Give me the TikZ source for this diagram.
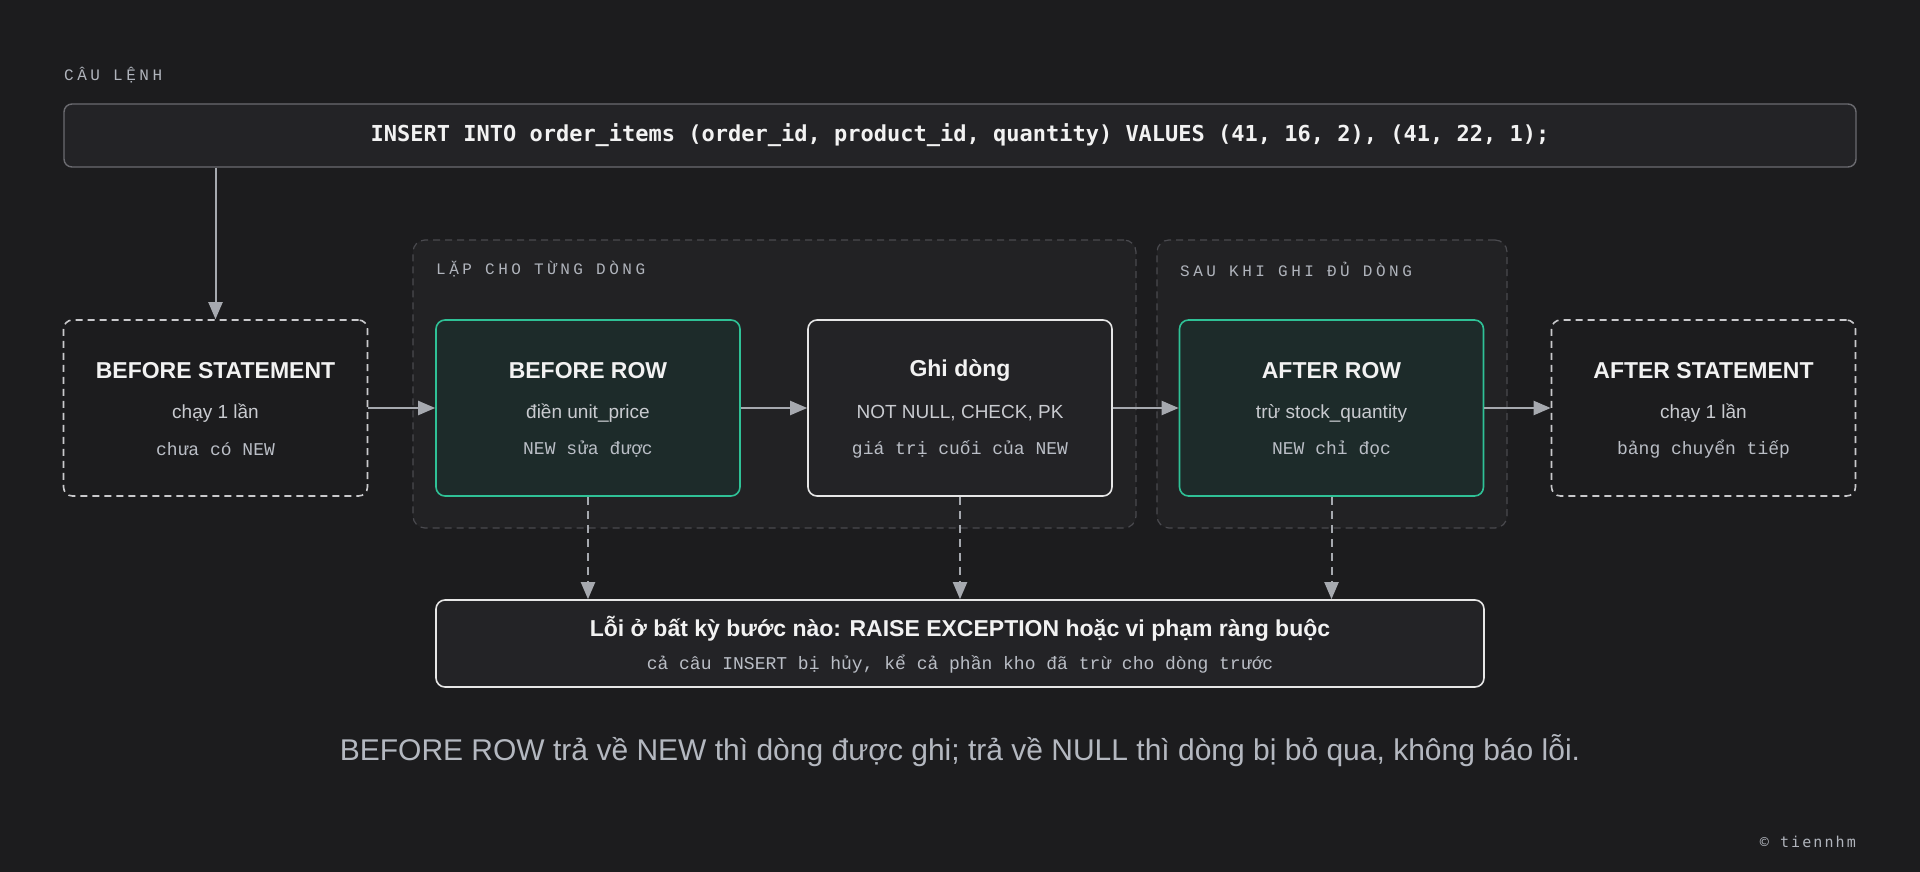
\documentclass[tikz,border=0pt]{standalone}
\usepackage{fontspec}
\setmainfont{Liberation Sans}
\setmonofont{Liberation Mono}
\newfontfamily\stmtmono{DejaVu Sans Mono}
\newfontfamily\capsmono[LetterSpace=22]{Liberation Mono}
\newfontfamily\signmono[LetterSpace=14]{DejaVu Sans Mono}
\usetikzlibrary{arrows.meta,chains,scopes}
\definecolor{bg}{HTML}{1C1C1E}
\definecolor{groupfill}{HTML}{222224}
\definecolor{groupline}{HTML}{4A4A4F}
\definecolor{stmtfill}{HTML}{232326}
\definecolor{stmtline}{HTML}{6B6B70}
\definecolor{boxfill}{HTML}{232326}
\definecolor{boxline}{HTML}{E6E6E6}
\definecolor{hotfill}{HTML}{1D2B2A}
\definecolor{hotline}{HTML}{2FC196}
\definecolor{onceline}{HTML}{C9C9CC}
\definecolor{arrowc}{HTML}{A6A9AF}
\definecolor{titletext}{HTML}{F2F2F2}
\definecolor{subtext}{HTML}{C9CBD0}
\definecolor{codetext}{HTML}{BABEC6}
\definecolor{tagtext}{HTML}{B0B4BC}
\definecolor{notetext}{HTML}{B4B8C0}

\begin{document}
\begin{tikzpicture}[
                x=1pt, y=-1pt,
                stage/.style={
                    line width=1.6pt,
                    rounded corners=9pt,
                    minimum width=304pt, minimum height=176pt,
                    inner sep=0pt
                },
                plain stage/.style={stage, draw=boxline, fill=boxfill},
                hot stage/.style={stage, draw=hotline, fill=hotfill},
                once stage/.style={stage, draw=onceline, fill=bg, dash pattern=on 7pt off 5pt},
                group/.style={
                    draw=groupline, fill=groupfill,
                    line width=1.2pt,
                    dash pattern=on 7pt off 5pt,
                    rounded corners=12pt,
                    inner sep=0pt
                },
                ttl/.style={text=titletext, font=\bfseries\fontsize{23}{27}\selectfont},
                sub/.style={text=subtext, font=\fontsize{19}{22}\selectfont},
                code/.style={text=codetext, font=\ttfamily\fontsize{18}{21}\selectfont},
                tag/.style={text=tagtext, font=\capsmono\fontsize{16}{19}\selectfont, anchor=west, inner sep=0pt},
                flow/.style={draw=arrowc, line width=2pt, -{Triangle[length=17pt,width=14pt]}},
                drop/.style={flow, dash pattern=on 8pt off 6pt}
            ]
            \fill[bg] (0,0) rectangle (1920,872);
            \useasboundingbox (0,0) rectangle (1920,872);

            \node[tag] (stmt-tag) at (64,75) {CÂU LỆNH};
            \node[draw=stmtline, fill=stmtfill, line width=1.4pt, rounded corners=8pt,
                  minimum width=1792pt, minimum height=63pt,
                  text=titletext, font=\stmtmono\bfseries\fontsize{22}{25}\selectfont]
                (stmt) at (960,135.5)
                {INSERT INTO order\_items (order\_id, product\_id, quantity) VALUES (41, 16, 2), (41, 22, 1);};

            \node[group, minimum width=723pt, minimum height=288pt] (loop) at (774.5,384) {};
            \node[group, minimum width=350pt, minimum height=288pt] (after) at (1332,384) {};
            \node[tag] (loop-tag) at (436,269) {LẶP CHO TỪNG DÒNG};
            \node[tag] (after-tag) at (1180,269) {SAU KHI GHI ĐỦ DÒNG};

            \node[once stage] (bs) at (215.5,408) {};
            \node[ttl] (bs-t) at (215.5,371) {BEFORE STATEMENT};
            \node[sub] (bs-a) at (215.5,413) {chạy 1 lần};
            \node[code] (bs-b) at (215.5,449) {chưa có NEW};

            \node[hot stage] (br) at (588,408) {};
            \node[ttl] (br-t) at (588,371) {BEFORE ROW};
            \node[sub] (br-a) at (588,413) {điền unit\_price};
            \node[code] (br-b) at (588,449) {NEW sửa được};

            \node[plain stage] (gd) at (960,408) {};
            \node[ttl] (gd-t) at (960,371) {Ghi dòng};
            \node[sub] (gd-a) at (960,413) {NOT NULL, CHECK, PK};
            \node[code] (gd-b) at (960,449) {giá trị cuối của NEW};

            \node[hot stage] (ar) at (1331.5,408) {};
            \node[ttl] (ar-t) at (1331.5,371) {AFTER ROW};
            \node[sub] (ar-a) at (1331.5,413) {trừ stock\_quantity};
            \node[code] (ar-b) at (1331.5,449) {NEW chỉ đọc};

            \node[once stage] (as) at (1703.5,408) {};
            \node[ttl] (as-t) at (1703.5,371) {AFTER STATEMENT};
            \node[sub] (as-a) at (1703.5,413) {chạy 1 lần};
            \node[code] (as-b) at (1703.5,449) {bảng chuyển tiếp};

            \node[draw=boxline, fill=boxfill, line width=1.6pt, rounded corners=9pt,
                  minimum width=1048pt, minimum height=87pt] (err) at (960,643.5) {};
            \node[ttl] (err-t) at (960,629) {Lỗi ở bất kỳ bước nào: RAISE EXCEPTION hoặc vi phạm ràng buộc};
            \node[code] (err-b) at (960,664) {cả câu INSERT bị hủy, kể cả phần kho đã trừ cho dòng trước};

            \node[text=notetext, font=\fontsize{30}{35}\selectfont] (note) at (960,751)
                {BEFORE ROW trả về NEW thì dòng được ghi; trả về NULL thì dòng bị bỏ qua, không báo lỗi.};
            \node[tag, anchor=east, font=\signmono\fontsize{15}{18}\selectfont] (sign) at (1856,842) {© tiennhm};

            \draw[flow] (stmt.south -| bs.north) -- (bs.north);

            { [start chain, every on chain/.style={join}, every join/.style={flow}]
                \chainin (bs);
                \chainin (br);
                \chainin (gd);
                \chainin (ar);
                \chainin (as);
            };

            \draw[drop] (br.south) -- (br.south |- err.north);
            \draw[drop] (gd.south) -- (gd.south |- err.north);
            \draw[drop] (ar.south) -- (ar.south |- err.north);

        \end{tikzpicture}
\end{document}
